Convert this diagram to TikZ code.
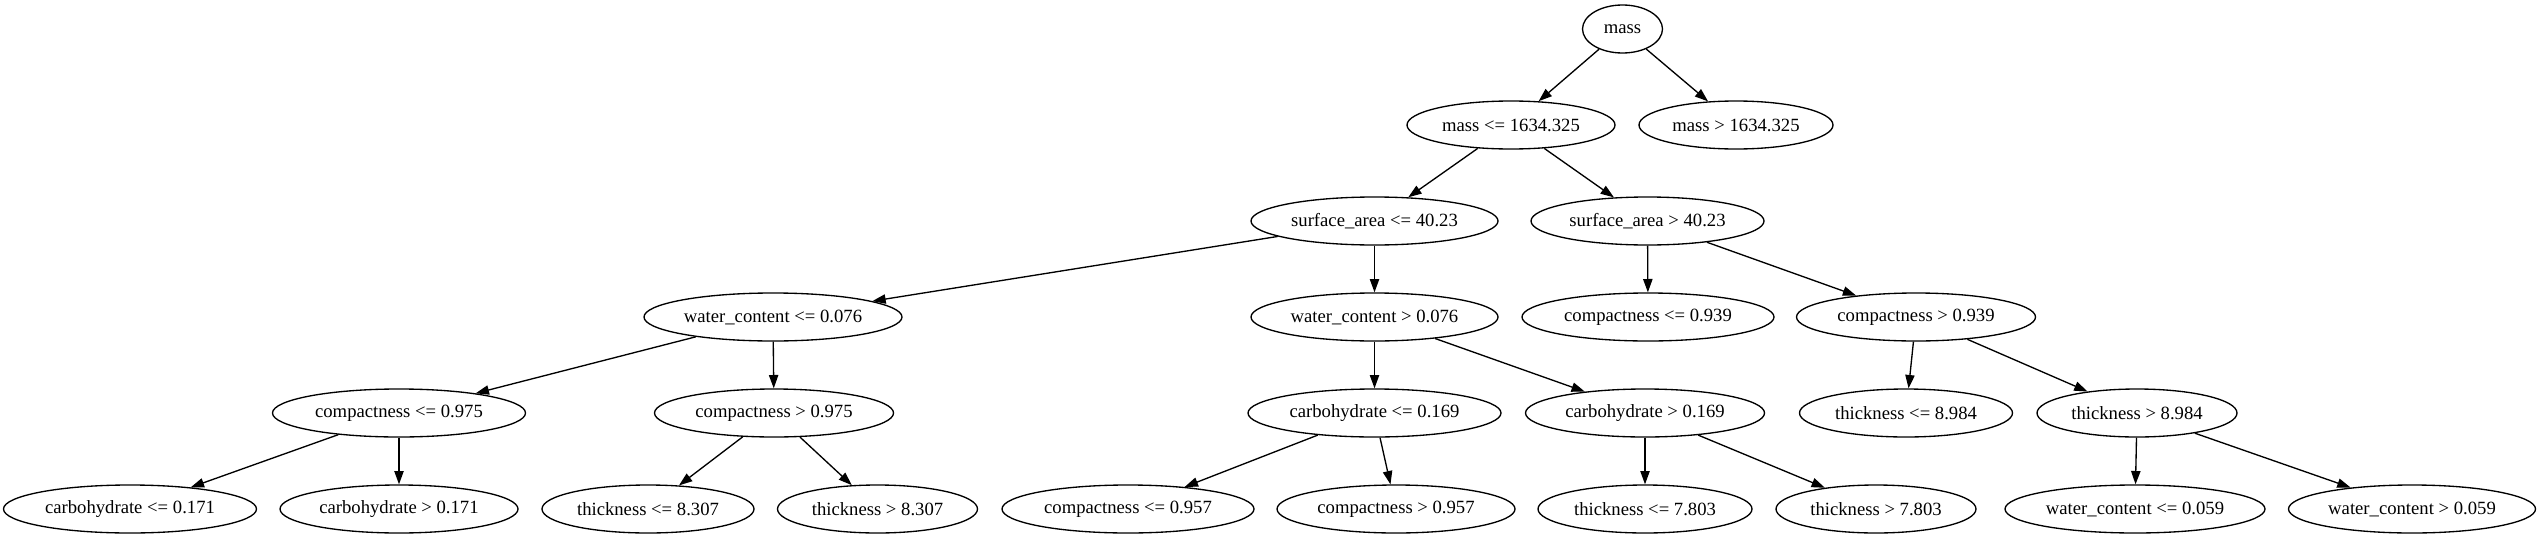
\documentclass[tikz,border=0pt]{standalone}
\usepackage{fontspec}
\setmainfont{Liberation Serif}
\usetikzlibrary{shapes.geometric,arrows.meta}
\begin{document}
\begin{tikzpicture}[x=0.75pt,y=-0.75pt,
  tn/.style={ellipse,draw,line width=1pt,inner sep=0pt,minimum height=36pt,font=\fontsize{14}{16}\selectfont},
  ed/.style={line width=1pt,-{Triangle[length=10pt,width=7pt]}}]
\useasboundingbox (0,0) rectangle (2541,539);
% row 1
\node[tn,minimum width=60pt] (n0) at (1622.5,29) {mass};
% row 2
\node[tn,minimum width=156pt] (n1) at (1511,125) {mass <= 1634.325};
\node[tn,minimum width=145.5pt] (n2) at (1736,125) {mass > 1634.325};
% row 3
\node[tn,minimum width=185.25pt] (n3) at (1374.5,221) {surface\_area <= 40.23};
\node[tn,minimum width=174.75pt] (n4) at (1647.5,221) {surface\_area > 40.23};
% row 4
\node[tn,minimum width=193.5pt] (n5) at (773,317) {water\_content <= 0.076};
\node[tn,minimum width=185.25pt] (n6) at (1374.5,317) {water\_content > 0.076};
\node[tn,minimum width=189pt] (n7) at (1648,317) {compactness <= 0.939};
\node[tn,minimum width=179.25pt] (n8) at (1916,317) {compactness > 0.939};
% row 5
\node[tn,minimum width=189.75pt] (n9) at (399,413) {compactness <= 0.975};
\node[tn,minimum width=179.25pt] (n10) at (774,413) {compactness > 0.975};
\node[tn,minimum width=189.75pt] (n11) at (1374.5,413) {carbohydrate <= 0.169};
\node[tn,minimum width=179.25pt] (n12) at (1645,413) {carbohydrate > 0.169};
\node[tn,minimum width=159.75pt] (n13) at (1906,413) {thickness <= 8.984};
\node[tn,minimum width=150pt] (n14) at (2137,413) {thickness > 8.984};
% row 6
\node[tn,minimum width=189.75pt] (n15) at (130,509) {carbohydrate <= 0.171};
\node[tn,minimum width=178.5pt] (n16) at (399,509) {carbohydrate > 0.171};
\node[tn,minimum width=159pt] (n17) at (648,509) {thickness <= 8.307};
\node[tn,minimum width=150pt] (n18) at (877.5,509) {thickness > 8.307};
\node[tn,minimum width=189pt] (n19) at (1128,509) {compactness <= 0.957};
\node[tn,minimum width=178.5pt] (n20) at (1396,509) {compactness > 0.957};
\node[tn,minimum width=160.5pt] (n21) at (1645,509) {thickness <= 7.803};
\node[tn,minimum width=150pt] (n22) at (1876,509) {thickness > 7.803};
\node[tn,minimum width=195pt] (n23) at (2135,509) {water\_content <= 0.059};
\node[tn,minimum width=185.25pt] (n24) at (2412,509) {water\_content > 0.059};
% edges
\draw[ed] (n0) -- (n1);
\draw[ed] (n0) -- (n2);
\draw[ed] (n1) -- (n3);
\draw[ed] (n1) -- (n4);
\draw[ed] (n3) -- (n5);
\draw[ed] (n3) -- (n6);
\draw[ed] (n4) -- (n7);
\draw[ed] (n4) -- (n8);
\draw[ed] (n5) -- (n9);
\draw[ed] (n5) -- (n10);
\draw[ed] (n6) -- (n11);
\draw[ed] (n6) -- (n12);
\draw[ed] (n8) -- (n13);
\draw[ed] (n8) -- (n14);
\draw[ed] (n9) -- (n15);
\draw[ed] (n9) -- (n16);
\draw[ed] (n10) -- (n17);
\draw[ed] (n10) -- (n18);
\draw[ed] (n11) -- (n19);
\draw[ed] (n11) -- (n20);
\draw[ed] (n12) -- (n21);
\draw[ed] (n12) -- (n22);
\draw[ed] (n14) -- (n23);
\draw[ed] (n14) -- (n24);
\end{tikzpicture}
\end{document}
